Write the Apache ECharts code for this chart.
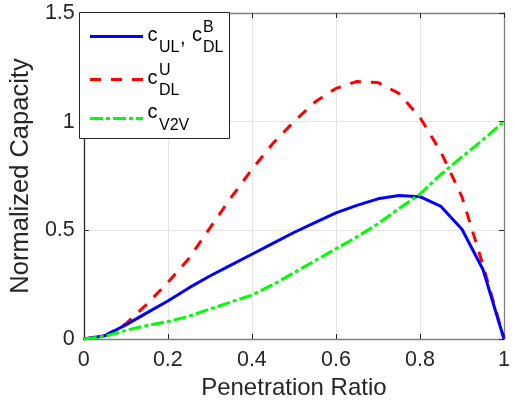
<!DOCTYPE html>
<html>
<head>
<meta charset="utf-8">
<script src="https://cdn.jsdelivr.net/npm/echarts@6/dist/echarts.min.js"></script>
<style>
  html, body { margin: 0; padding: 0; background: #fff; }
  #chart { width: 515px; height: 409px; }
</style>
</head>
<body>
<div id="chart"></div>
<script>
// Penetration ratio samples (x axis)
const penetration = [0, 0.05, 0.1, 0.15, 0.2, 0.25, 0.3, 0.35, 0.4, 0.45, 0.5,
                     0.55, 0.6, 0.65, 0.7, 0.75, 0.8, 0.85, 0.9, 0.95, 1];
// c_UL, c_DL^B
const capUL = [0, 0.015, 0.065, 0.12, 0.175, 0.235, 0.29, 0.34, 0.39, 0.44, 0.49,
               0.535, 0.58, 0.615, 0.645, 0.66, 0.655, 0.61, 0.505, 0.32, 0];
// c_DL^U
const capDLU = [0, 0.015, 0.07, 0.16, 0.26, 0.37, 0.51, 0.65, 0.78, 0.9, 1.0,
                1.09, 1.153, 1.185, 1.18, 1.13, 1.02, 0.86, 0.654, 0.34, 0];
// c_V2V
const capV2V = [0, 0.012, 0.04, 0.062, 0.08, 0.105, 0.138, 0.17, 0.202, 0.25, 0.305,
                0.36, 0.415, 0.47, 0.53, 0.6, 0.667, 0.758, 0.838, 0.917, 1];

const xTicks = { min: 0, max: 1, interval: 0.2 };
const yTicks = { min: 0, max: 1.5, interval: 0.5 };

const pairs = ys => penetration.map((x, i) => [x, ys[i]]);

const FONT = 'Liberation Sans, Arial, Helvetica, sans-serif';
const chart = echarts.init(document.getElementById('chart'), null, { renderer: 'canvas' });

const gridLine = { show: true, lineStyle: { color: '#e3e3e3', width: 1 } };
const boxAxis = color => ({ show: true, onZero: false, lineStyle: { color: color, width: 1.3 } });
const tick = { show: true, inside: true, length: 5, lineStyle: { color: '#262626', width: 1 } };

// Legend drawn as a boxed group with sub/superscript labels
function legendGroup() {
  const els = [];
  els.push({ type: 'rect', shape: { x: 79.5, y: 12.5, width: 150, height: 126 },
             style: { fill: '#fff', stroke: '#262626', lineWidth: 1 }, z: 100 });
  const line = (y, color, dash) => els.push({
    type: 'line', shape: { x1: 90, y1: y, x2: 143, y2: y },
    style: { stroke: color, lineWidth: 3, lineDash: dash, lineCap: 'butt' }, z: 101 });
  // x, baseline y, text, font size
  const txt = (x, base, text, size) => els.push({
    type: 'text', x: x, y: base - 0.36 * size,
    style: { text: text, font: size + 'px ' + FONT, fill: '#000', verticalAlign: 'middle', align: 'left' },
    z: 102 });
  line(36.5, '#0000ff', null);
  line(79.5, '#ff0000', [11, 10]);
  line(118.5, '#00ff00', [13, 3, 4, 3]);
  // c_UL, c_DL^B
  txt(147.5, 43, 'c', 20);
  txt(159, 53.5, 'UL', 16);
  txt(180, 46, ',', 20);
  txt(192, 43, 'c', 20);
  txt(203, 33, 'B', 16);
  txt(203, 53.5, 'DL', 16);
  // c_DL^U
  txt(147.5, 86, 'c', 20);
  txt(159, 76.5, 'U', 16);
  txt(159, 96.5, 'DL', 16);
  // c_V2V
  txt(147.5, 120, 'c', 20);
  txt(159, 131.5, 'V2V', 16);
  return els;
}

const option = {
  animation: false,
  backgroundColor: '#fff',
  grid: { left: 79, right: 11, top: 13, bottom: 70, containLabel: false },
  xAxis: [
    {
      type: 'value', min: xTicks.min, max: xTicks.max, interval: xTicks.interval,
      position: 'bottom',
      name: 'Penetration Ratio', nameLocation: 'middle', nameGap: 37,
      nameTextStyle: { fontFamily: FONT, fontSize: 24, color: '#262626' },
      axisLine: boxAxis('#808080'), axisTick: tick,
      axisLabel: { fontFamily: FONT, fontSize: 21.5, color: '#262626', margin: 10 },
      splitLine: gridLine
    },
    {
      type: 'value', min: xTicks.min, max: xTicks.max, interval: xTicks.interval,
      position: 'top',
      axisLine: boxAxis('#808080'), axisTick: tick,
      axisLabel: { show: false }, splitLine: { show: false }
    }
  ],
  yAxis: [
    {
      type: 'value', min: yTicks.min, max: yTicks.max, interval: yTicks.interval,
      position: 'left',
      name: 'Normalized Capacity', nameLocation: 'middle', nameGap: 44, nameRotate: 90,
      nameTextStyle: { fontFamily: FONT, fontSize: 25.5, color: '#262626' },
      axisLine: boxAxis('#262626'), axisTick: tick,
      axisLabel: { fontFamily: FONT, fontSize: 21.5, color: '#262626', margin: 9 },
      splitLine: gridLine
    },
    {
      type: 'value', min: yTicks.min, max: yTicks.max, interval: yTicks.interval,
      position: 'right',
      axisLine: boxAxis('#808080'), axisTick: tick,
      axisLabel: { show: false }, splitLine: { show: false }
    }
  ],
  series: [
    {
      name: 'c_UL, c_DL^B', type: 'line', data: pairs(capUL),
      showSymbol: false, symbol: 'none', z: 4,
      lineStyle: { color: '#0000ff', width: 3 }
    },
    {
      name: 'c_DL^U', type: 'line', data: pairs(capDLU),
      showSymbol: false, symbol: 'none', z: 3,
      lineStyle: { color: '#ff0000', width: 3, type: [11, 10], cap: 'butt' }
    },
    {
      name: 'c_V2V', type: 'line', data: pairs(capV2V),
      showSymbol: false, symbol: 'none', z: 5,
      lineStyle: { color: '#00ff00', width: 3, type: [13, 3, 4, 3], cap: 'butt' }
    }
  ],
  graphic: legendGroup()
};

chart.setOption(option);
</script>
</body>
</html>
